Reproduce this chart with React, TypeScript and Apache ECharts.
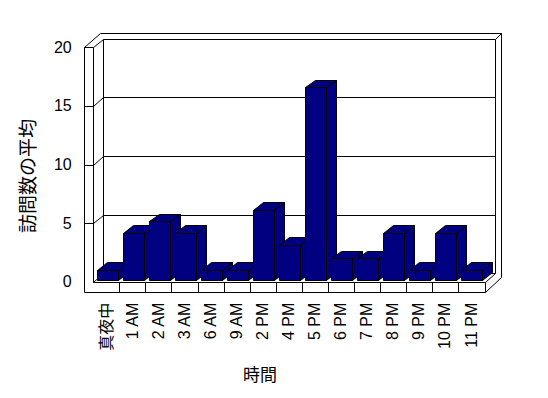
import React, { useEffect, useRef } from "react";
import * as echarts from "echarts";

// ---- data ----
const hours: string[] = [
  "真夜中", "1 AM", "2 AM", "3 AM", "6 AM", "9 AM", "2 PM", "4 PM",
  "5 PM", "6 PM", "7 PM", "8 PM", "9 PM", "10 PM", "11 PM",
];
const avgVisits: number[] = [
  0.86, 4, 5, 4, 0.86, 0.86, 6, 3, 16.43, 1.86, 1.86, 4, 0.86, 4, 0.86,
];
const yTicks: number[] = [0, 5, 10, 15, 20];
const yTitle = "訪問数の平均";
const xTitle = "時間";

// ---- styling constants ----
const FONT = "'Liberation Sans', 'Noto Sans CJK JP', sans-serif";
const WALL = 9; // left wall thickness
const FLOOR = 9.8; // floor thickness
const DX = 9.7, DY = -8.6; // depth to back wall face
const D2X = 15.6, D2Y = -14.3; // depth to back of wall slab
const BAR_DX = 10, BAR_DY = -7.7;
const BAR_LIFT = -1.7;
const BAR_COLOR = "#000080";

const snap = (v: number) => Math.round(v) + 0.5;
const P = (x: number, y: number) => [snap(x), snap(y)];
const lineStyle = { fill: "none", stroke: "#000", lineWidth: 1 };

export default function App() {
  const ref = useRef<HTMLDivElement>(null);
  useEffect(() => {
    if (!ref.current) return;
    const chart = echarts.init(ref.current, undefined, { renderer: "svg" });
    const yMax = yTicks[yTicks.length - 1];
    const yMin = yTicks[0];
    const yStep = yTicks[1] - yTicks[0];

    const frameItem = (params: any, api: any) => {
      const bw = api.size([1, 0])[0];
      const p0 = api.coord([0, yMin]);
      const L = p0[0] - bw / 2;
      const B = p0[1];
      const T = api.coord([0, yMax])[1];
      const RF = L + bw * hours.length + 1;
      const ch: any[] = [];
      // outer silhouette
      ch.push({
        type: "polygon",
        shape: {
          points: [
            P(L - WALL, T), P(L - WALL + D2X, T + D2Y), P(RF + D2X, T + D2Y),
            P(RF + D2X, B + FLOOR + D2Y), P(RF, B + FLOOR), P(L - WALL, B + FLOOR),
          ],
        },
        style: { fill: "#fff", stroke: "#000", lineWidth: 1 },
      });
      // back wall face
      ch.push({
        type: "polygon",
        shape: { points: [P(L + DX, T + DY), P(RF + DX, T + DY), P(RF + DX, B + DY), P(L + DX, B + DY)] },
        style: { fill: "#fff", stroke: "#000", lineWidth: 1 },
      });
      // corner diagonal top right
      ch.push({ type: "polyline", shape: { points: [P(RF + DX, T + DY), P(RF + D2X, T + D2Y)] }, style: lineStyle });
      // left wall
      ch.push({ type: "polyline", shape: { points: [P(L - WALL, T), P(L, T), P(L + DX, T + DY)] }, style: lineStyle });
      ch.push({ type: "polyline", shape: { points: [P(L, T), P(L, B), P(RF, B), P(RF, B + FLOOR)] }, style: lineStyle });
      ch.push({ type: "polyline", shape: { points: [P(L, B), P(L + DX, B + DY)] }, style: lineStyle });
      ch.push({ type: "polyline", shape: { points: [P(RF, B), P(RF + DX, B + DY)] }, style: lineStyle });
      // gridlines
      yTicks.forEach((t) => {
        if (t === yMin || t === yMax) return;
        const y = api.coord([0, t])[1];
        ch.push({
          type: "polyline",
          shape: { points: [P(L - WALL, y), P(L, y), P(L + DX, y + DY), P(RF + DX, y + DY)] },
          style: lineStyle,
        });
      });
      // category ticks on floor front
      for (let k = 1; k < hours.length; k++) {
        const x = L + k * bw;
        ch.push({ type: "polyline", shape: { points: [P(x, B), P(x, B + FLOOR)] }, style: lineStyle });
      }
      return { type: "group", children: ch };
    };

    const barItem = (params: any, api: any) => {
      const i = api.value(0);
      const v = api.value(1);
      const bw = api.size([1, 0])[0];
      const c = api.coord([i, v]);
      const b = api.coord([i, 0]);
      const x0 = c[0] - bw / 2 + bw * 0.127;
      const x1 = x0 + bw * 0.81;
      const top = c[1] + BAR_LIFT;
      const base = b[1] + BAR_LIFT;
      const st = { fill: BAR_COLOR, stroke: "#000", lineWidth: 1 };
      return {
        type: "group",
        children: [
          {
            type: "polygon",
            shape: { points: [P(x1, top), P(x1 + BAR_DX, top + BAR_DY), P(x1 + BAR_DX, base + BAR_DY), P(x1, base)] },
            style: st,
          },
          {
            type: "polygon",
            shape: { points: [P(x0, top), P(x0 + BAR_DX, top + BAR_DY), P(x1 + BAR_DX, top + BAR_DY), P(x1, top)] },
            style: st,
          },
          {
            type: "polygon",
            shape: { points: [P(x0, top), P(x1, top), P(x1, base), P(x0, base)] },
            style: st,
          },
        ],
      };
    };

    chart.setOption({
      animation: false,
      backgroundColor: "#fff",
      grid: { left: 93.3, top: 47.3, width: 26.05 * hours.length, height: 234.4 },
      xAxis: {
        type: "category",
        data: hours,
        axisLine: { show: false },
        axisTick: { show: false },
        splitLine: { show: false },
        axisLabel: {
          rotate: 90,
          interval: 0,
          margin: 21,
          fontSize: 16,
          color: "#000",
          fontFamily: FONT,
          padding: [0, 0, 5, 0],
        },
      },
      yAxis: {
        type: "value",
        min: yMin,
        max: yMax,
        interval: yStep,
        axisLine: { show: false },
        axisTick: { show: false },
        splitLine: { show: false },
        axisLabel: { margin: 21.6, fontSize: 16, color: "#000", fontFamily: FONT },
      },
      graphic: [
        {
          type: "text",
          x: 28,
          y: 176,
          rotation: Math.PI / 2,
          style: { text: yTitle, fontSize: 19, fontFamily: FONT, fill: "#000", align: "center", verticalAlign: "middle" },
        },
        {
          type: "text",
          x: 260,
          y: 375.5,
          style: { text: xTitle, fontSize: 17, fontFamily: FONT, fill: "#000", align: "center", verticalAlign: "middle" },
        },
      ],
      series: [
        {
          type: "custom",
          silent: true,
          z: 1,
          renderItem: frameItem,
          data: [[0, 0]],
        },
        {
          type: "custom",
          silent: true,
          z: 2,
          renderItem: barItem,
          data: hours.map((h, i) => [i, avgVisits[i]]),
        },
      ],
    });
    return () => chart.dispose();
  }, []);
  return (
    <div
      ref={ref}
      style={{ position: "absolute", left: 0, top: 0, width: 548, height: 398, background: "#fff" }}
    />
  );
}
